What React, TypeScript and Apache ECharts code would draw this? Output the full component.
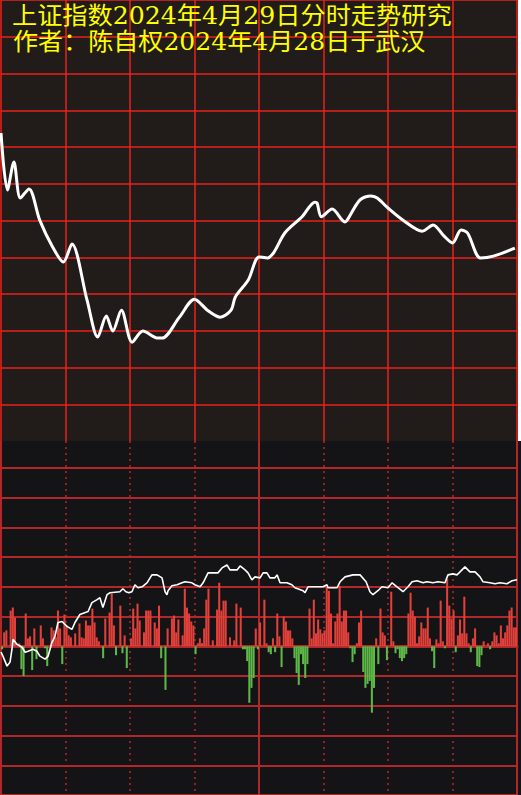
import React, { useEffect, useRef } from "react";
import * as echarts from "echarts";

const titleLines = ["上证指数2024年4月29日分时走势研究", "作者：陈自权2024年4月28日于武汉"];

const minuteCount = 240;

// price line (top panel)
const priceMinutes = [0, 3, 6, 9, 13, 18, 24, 29, 33, 40, 45, 49, 52, 56, 61, 66, 73, 75, 83, 90, 96, 102, 107, 109, 115, 120, 124, 127, 132, 140, 146, 147, 149, 154, 160, 161, 167, 172, 175, 180, 187, 196, 201, 206, 210, 214, 217, 223, 229, 239];
const priceValues = [3083.8, 3068.3, 3075.9, 3066.1, 3068.6, 3060.1, 3052.8, 3048.7, 3053.6, 3038.4, 3028.3, 3034.0, 3029.9, 3035.6, 3026.9, 3029.9, 3028.0, 3028.0, 3033.7, 3038.6, 3035.6, 3033.7, 3035.6, 3039.2, 3043.8, 3050.1, 3049.8, 3051.4, 3056.6, 3061.0, 3065.0, 3064.8, 3061.0, 3063.1, 3059.6, 3060.1, 3065.6, 3066.7, 3066.1, 3063.4, 3060.1, 3057.1, 3058.8, 3055.8, 3053.9, 3057.4, 3056.6, 3049.8, 3050.3, 3052.5];

// white line (lower panel)
const flowMinutes = [0, 0.9, 2.8, 4.2, 5.1, 5.6, 7.4, 9.8, 11.2, 12.6, 14.9, 16.7, 18.1, 20.5, 21.9, 23.7, 25.1, 26.5, 28.4, 30.7, 33, 34.4, 36.7, 40.5, 42.3, 44.7, 46, 47.4, 49.3, 50.7, 55.3, 56.7, 58.1, 59.5, 60.9, 62.3, 63.7, 65.6, 67.9, 70.2, 72.6, 74.9, 76.3, 77.2, 77.7, 79.5, 81.9, 84.2, 85.6, 88.8, 90.2, 92.6, 94, 96.3, 100.9, 102.8, 105.1, 106.5, 109.8, 111.2, 113.5, 114.9, 116.7, 118.1, 120.5, 121.9, 123.7, 125.1, 127.4, 128.4, 129.8, 133, 135.3, 136.7, 140.5, 141.4, 142.8, 149.8, 151.6, 152.1, 156.3, 157.7, 160, 163.7, 167, 169.8, 171.6, 173, 175.3, 177.2, 180, 181.9, 184.2, 187, 189.3, 191.2, 193.5, 196.3, 198.1, 200.9, 203.3, 206.5, 207.9, 210.2, 212.1, 213.5, 215.8, 218.1, 220.5, 222.8, 224.2, 227.4, 229.8, 232.1, 235.3, 237.7, 240];
const flowValues = [-6, -10, -20, -16, -3, 7, 2, -1, -6, -5, -3, -5, -10, -13, -10, 4, 10, 24, 25, 20, 17, 24, 32, 35, 44, 47, 49, 39, 52, 54, 55, 58, 55, 54, 55, 62, 59, 60, 64, 72, 72, 69, 55, 52, 56, 61, 62, 64, 65, 64, 62, 60, 64, 74, 74, 79, 82, 77, 77, 81, 77, 74, 67, 70, 69, 74, 74, 69, 69, 72, 64, 64, 62, 59, 56, 54, 60, 60, 62, 59, 59, 65, 70, 72, 72, 65, 55, 52, 56, 60, 59, 64, 60, 55, 60, 65, 66, 64, 65, 64, 65, 64, 72, 73, 72, 75, 80, 75, 75, 70, 65, 64, 63, 64, 63, 66, 67];

// histogram bars (lower panel), minute index -> value
const barMinutes = [0, 1, 2, 4, 5, 6, 8, 9, 10, 11, 12, 13, 14, 15, 16, 18, 19, 20, 21, 23, 24, 25, 26, 27, 28, 29, 30, 31, 32, 34, 36, 37, 38, 39, 40, 41, 42, 43, 44, 45, 47, 48, 50, 51, 52, 53, 55, 56, 57, 58, 60, 61, 62, 63, 64, 66, 67, 68, 69, 71, 72, 73, 74, 76, 77, 79, 80, 81, 82, 84, 85, 86, 87, 88, 89, 90, 91, 92, 93, 94, 95, 96, 98, 100, 101, 102, 103, 104, 106, 108, 109, 111, 112, 113, 114, 115, 116, 117, 118, 119,
  120, 122, 123, 124, 125, 126, 127, 128, 129, 130, 131, 132, 133, 134, 135, 136, 137, 138, 139, 140, 141, 142, 143, 144, 145, 146, 147, 148, 149, 150, 151, 152, 153, 154, 155, 156, 157, 158, 159, 160, 161, 162, 163, 164, 165, 166, 167, 168, 169, 170, 171, 172, 173, 174, 175, 176, 177, 178, 179, 181, 182, 183, 184, 185, 186, 187, 188, 189, 190, 191, 192, 193, 194, 195, 196, 197, 198, 199, 200, 201, 202, 203, 204, 205, 206, 207, 208, 209, 210, 211, 212, 213, 214, 215, 216, 217, 218, 219, 220, 221, 222, 223, 224, 226, 227, 228, 229, 230, 231, 232, 233, 234, 235, 236, 237, 238, 239];
const barValues = [-3, 14, 16, 36, 39, 29, 3, -23, -30, 33, 8, 10, -24, 18, -13, 21, 8, -2, -20, 19, 16, 9, 36, 18, -18, 32, 21, 11, 9, 13, 23, 9, 8, 26, 21, 21, 38, 24, 9, 5, -12, 28, 34, 53, 21, -9, 41, -7, 11, -22, 8, 38, 18, 43, 26, 14, 36, 36, 36, 24, 18, 41, -12, -44, 18, 28, 31, 14, 27, 11, 58, 39, 33, 25, 21, -8, 3, 8, 3, 18, 47, 58, 6, 37, 64, 36, 46, 46, 9, 6, 43, 39, -3, -3, -15, -57, -42, -32, 18, -3,
  24, 47, 3, -6, -8, 8, -6, 33, 10, -21, 30, 25, 16, 16, 8, -12, -27, -39, -8, -18, -32, -18, 38, 8, 47, 13, 27, 17, 13, 16, 60, 56, 33, 3, 25, 33, 61, 25, 36, 36, 14, -2, -16, -8, 3, 24, 36, -26, -42, -38, -35, -67, -42, 8, -18, 38, 14, 11, -14, 55, 5, -7, -3, -12, -15, -12, -8, 33, 54, 36, 30, 3, 10, 24, 18, 18, 39, 8, -5, -22, 7, 3, 46, 5, -2, 68, 41, 28, 36, -6, 11, 27, 13, 50, 13, 3, -6, 8, 18, -20, -21, -9, 5, 3, -3, 5, 14, 11, 3, 21, 8, 14, 21, 36, 39, 19, 19];

const TOP_RED = "#ea221d";
const LOW_RED = "#b0282a";
const TITLE_FONT = '24px "DejaVu Serif", "Noto Sans CJK SC"';

export default function App() {
  const ref = useRef<HTMLDivElement>(null);

  useEffect(() => {
    if (!ref.current) return;
    const chart = echarts.init(ref.current, null, { renderer: "svg" });

    const priceData = priceMinutes.map((m, i) => [m, priceValues[i]]);
    const flowData = flowMinutes.map((m, i) => [m, flowValues[i]]);
    const categories = Array.from({ length: minuteCount }, (_, i) => String(i));
    const barData: (number | string)[] = categories.map(() => "-");
    barMinutes.forEach((m, i) => {
      barData[m] = barValues[i];
    });

    const hiddenAxisParts = {
      axisLine: { show: false },
      axisTick: { show: false },
      axisLabel: { show: false },
    };

    chart.setOption({
      animation: false,
      backgroundColor: "transparent",
      graphic: [
        {
          type: "text",
          x: 12,
          y: 16,
          scaleX: 1.05,
          z: 100,
          style: {
            text: titleLines[0],
            fill: "#ffff00",
            font: TITLE_FONT,
            verticalAlign: "middle",
          },
        },
        {
          type: "text",
          x: 13,
          y: 41.5,
          scaleX: 1.045,
          z: 100,
          style: {
            text: titleLines[1],
            fill: "#ffff00",
            font: TITLE_FONT,
            verticalAlign: "middle",
          },
        },
      ],
      grid: [
        { left: 1, top: 0, width: 516, height: 441, show: true, backgroundColor: "#211b1a", borderWidth: 0 },
        { left: 1, top: 441, width: 516, height: 354.6, show: true, backgroundColor: "#141416", borderWidth: 0 },
      ],
      xAxis: [
        {
          gridIndex: 0,
          type: "value",
          min: 0,
          max: minuteCount,
          interval: 30,
          ...hiddenAxisParts,
          splitLine: { show: true, lineStyle: { color: TOP_RED, width: 1.5 } },
        },
        {
          gridIndex: 1,
          type: "category",
          data: categories,
          axisLine: { show: true, onZero: true, lineStyle: { color: LOW_RED, width: 3 } },
          axisTick: { show: false },
          axisLabel: { show: false },
          splitLine: { show: false },
        },
        {
          gridIndex: 1,
          type: "value",
          min: 0,
          max: minuteCount,
          interval: 30,
          ...hiddenAxisParts,
          splitLine: { show: true, lineStyle: { color: LOW_RED, width: 1.5, type: [2, 4] } },
        },
        {
          gridIndex: 1,
          type: "value",
          min: 0,
          max: minuteCount,
          interval: 120,
          ...hiddenAxisParts,
          splitLine: { show: true, lineStyle: { color: LOW_RED, width: 2 } },
        },
      ],
      yAxis: [
        {
          gridIndex: 0,
          type: "value",
          min: 3000,
          max: 3120,
          interval: 10,
          ...hiddenAxisParts,
          splitLine: { show: true, showMinLine: false, lineStyle: { color: TOP_RED, width: 1.5 } },
        },
        {
          gridIndex: 1,
          type: "value",
          min: -150,
          max: 207,
          interval: 30,
          ...hiddenAxisParts,
          splitLine: { show: true, showMaxLine: false, lineStyle: { color: LOW_RED, width: 2 } },
        },
      ],
      series: [
        {
          type: "line",
          xAxisIndex: 0,
          yAxisIndex: 0,
          data: priceData,
          showSymbol: false,
          smooth: 0.3,
          lineStyle: { color: "#ffffff", width: 3 },
          z: 5,
        },
        {
          type: "bar",
          xAxisIndex: 1,
          yAxisIndex: 1,
          data: barData,
          barWidth: "95%",
          itemStyle: {
            color: (p: any) => (p.value >= 0 ? "#e2403b" : "#5db848"),
          },
          z: 2,
        },
        {
          type: "line",
          xAxisIndex: 2,
          yAxisIndex: 1,
          data: flowData,
          showSymbol: false,
          lineStyle: { color: "#ffffff", width: 1.6 },
          z: 4,
        },
      ],
    });

    return () => chart.dispose();
  }, []);

  return (
    <div
      ref={ref}
      style={{
        position: "fixed",
        left: 0,
        top: 0,
        width: 521,
        height: 795,
        background:
          "linear-gradient(to bottom, transparent 441px, #141416 441px), linear-gradient(to right, #211b1a 518px, #ffffff 518px)",
      }}
    />
  );
}
